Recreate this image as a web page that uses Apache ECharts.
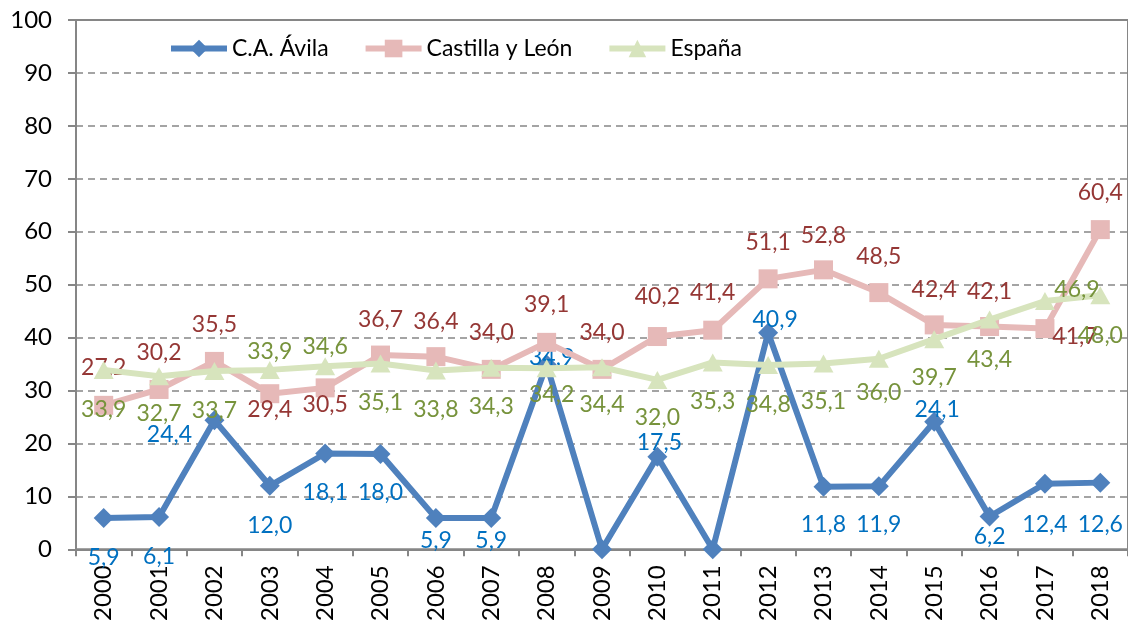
<!DOCTYPE html>
<html>
<head>
<meta charset="utf-8">
<script src="https://cdn.jsdelivr.net/npm/echarts@6/dist/echarts.min.js"></script>
<style>
  html, body { margin: 0; padding: 0; background: #ffffff; }
  #chart { width: 1128px; height: 624px; }
</style>
</head>
<body>
<div id="chart"></div>
<script>
// ---------- DATA ----------
const years = ['2000','2001','2002','2003','2004','2005','2006','2007','2008','2009',
               '2010','2011','2012','2013','2014','2015','2016','2017','2018'];
const seriesNames = ['C.A. Ávila', 'Castilla y León', 'España'];
const avila    = [5.9, 6.1, 24.4, 12.0, 18.1, 18.0, 5.9, 5.9, 34.9, 0, 17.5, 0, 40.9, 11.8, 11.9, 24.1, 6.2, 12.4, 12.6];
const castilla = [27.2, 30.2, 35.5, 29.4, 30.5, 36.7, 36.4, 34.0, 39.1, 34.0, 40.2, 41.4, 51.1, 52.8, 48.5, 42.4, 42.1, 41.7, 60.4];
const espana   = [33.9, 32.7, 33.7, 33.9, 34.6, 35.1, 33.8, 34.3, 34.2, 34.4, 32.0, 35.3, 34.8, 35.1, 36.0, 39.7, 43.4, 46.9, 48.0];
const yTicks = { min: 0, max: 100, interval: 10 };

// ---------- STYLE (label placement relative to each marker) ----------
const avilaLabelOffset = [[0,39],[0,40],[-45,14],[0,40],[0,39],[0,39],[0,22],[0,22],[5,-7],null,
                          [2,-14],null,[7,-13],[0,38],[0,38],[3,-12],[0,20],[0,41],[0,42]];
const castillaLabelOffset = [[0,-38],[0,-37],[0,-37],[0,16],[0,17],[0,-35],[0,-35],[0,-37],[0,-38],[0,-37],
                             [0,-40],[0,-38],[0,-36],[0,-34],[0,-36],[0,-35],[0,-35],[30,8],[0,-37]];
const espanaLabelOffset = [[0,40],[0,37],[0,40],[0,-18],[0,-20],[0,39],[0,39],[0,39],[5,26],[0,37],
                           [0,38],[0,39],[0,39],[0,38],[0,34],[0,38],[0,40],[32,-11],[0,40]];

const FONT = 'Lato, "Open Sans", "DejaVu Sans", sans-serif';
const fmt = v => v.toFixed(1).replace('.', ',');

function buildData(values, offsets, labelColor) {
  return values.map((v, i) => {
    const off = offsets[i];
    return {
      value: v,
      label: off ? {
        show: true,
        position: 'inside',
        offset: off,
        color: labelColor,
        fontSize: 23,
        fontFamily: FONT,
        formatter: () => fmt(v)
      } : { show: false }
    };
  });
}

const chart = echarts.init(document.getElementById('chart'), null, { renderer: 'canvas' });

const COLORS = ['#4F81BD', '#E6B9B8', '#D7E4BD'];

const option = {
  animation: false,
  backgroundColor: '#ffffff',
  textStyle: { fontFamily: FONT },
  grid: {
    left: 76, right: -4, top: 20, bottom: 74,
    show: true, borderColor: '#868686', borderWidth: 2, backgroundColor: 'transparent'
  },
  legend: {
    left: 163, top: 32,
    itemWidth: 56, itemHeight: 22, itemGap: 34,
    textStyle: { fontSize: 23, fontFamily: FONT, color: '#000000' },
    data: seriesNames.map((n, i) => ({ name: n, lineStyle: { width: 6, color: COLORS[i] } }))
  },
  xAxis: {
    type: 'category',
    data: years,
    boundaryGap: true,
    axisLine: { show: true, lineStyle: { color: '#868686', width: 2 } },
    axisTick: { show: true, length: 7, lineStyle: { color: '#868686', width: 2 } },
    axisLabel: { rotate: 90, margin: 16, fontSize: 24, fontFamily: FONT, color: '#000000', interval: 0 },
    splitLine: { show: false }
  },
  yAxis: {
    type: 'value',
    min: yTicks.min, max: yTicks.max, interval: yTicks.interval,
    axisLine: { show: true, lineStyle: { color: '#868686', width: 2 } },
    axisTick: { show: true, length: 8, lineStyle: { color: '#868686', width: 2 } },
    axisLabel: { margin: 24, fontSize: 24, fontFamily: FONT, color: '#000000' },
    splitLine: { show: true, lineStyle: { color: '#868686', width: 1.5, type: [7, 5] } }
  },
  series: [
    {
      name: seriesNames[0], type: 'line',
      data: buildData(avila, avilaLabelOffset, '#0070C0'),
      symbol: 'diamond', symbolSize: 20,
      lineStyle: { color: COLORS[0], width: 6 },
      itemStyle: { color: COLORS[0] },
      z: 2
    },
    {
      name: seriesNames[1], type: 'line',
      data: buildData(castilla, castillaLabelOffset, '#953735'),
      symbol: 'rect', symbolSize: 19,
      lineStyle: { color: COLORS[1], width: 6 },
      itemStyle: { color: COLORS[1] },
      z: 3
    },
    {
      name: seriesNames[2], type: 'line',
      data: buildData(espana, espanaLabelOffset, '#77933C'),
      symbol: 'triangle', symbolSize: [20, 18],
      lineStyle: { color: COLORS[2], width: 6 },
      itemStyle: { color: COLORS[2] },
      z: 4
    }
  ]
};

chart.setOption(option);
</script>
</body>
</html>
